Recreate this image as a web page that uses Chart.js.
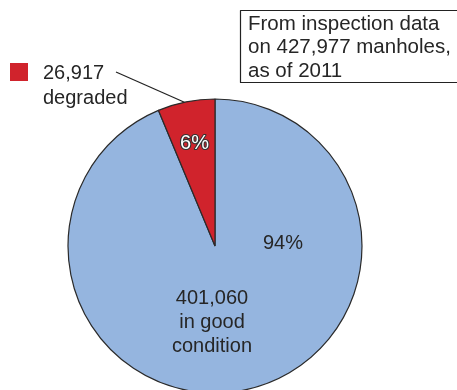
<!DOCTYPE html>
<html>
<head>
<meta charset="utf-8">
<script src="https://cdn.jsdelivr.net/npm/chart.js@4/dist/chart.umd.min.js"></script>
<style>
    html, body { margin: 0; padding: 0; background: #fff; }
    #wrap { position: relative; width: 457px; height: 390px; }
</style>
</head>
<body>
<div id="wrap"><canvas id="manholeChart" width="457" height="390"></canvas></div>
<script>
const categories = ['in good condition', 'degraded'];
const counts = [401060, 26917];
const percents = ['94%', '6%'];
const noteLines = ['From inspection data', 'on 427,977 manholes,', 'as of 2011'];

const sliceColors = ['#95b5df', '#d0232c'];
const textColor = '#262626';
const font = '20px "Liberation Sans", Arial, sans-serif';

const fmt = n => n.toLocaleString('en-US');

// labels, legend swatch with leader line, and the note box
const annotations = {
    id: 'annotations',
    afterDatasetsDraw(chart) {
        const ctx = chart.ctx;
        const arcs = chart.getDatasetMeta(0).data;
        const good = arcs[0];
        const bad = arcs[1];
        const cx = good.x, cy = good.y, r = good.outerRadius;

        ctx.save();
        ctx.font = font;
        ctx.textBaseline = 'middle';
        ctx.textAlign = 'center';

        // percentage inside the small slice, white with dark outline
        const midBad = (bad.startAngle + bad.endAngle) / 2;
        const px = cx + Math.cos(midBad) * r * 0.71;
        const py = cy + Math.sin(midBad) * r * 0.71;
        ctx.lineWidth = 2.2;
        ctx.strokeStyle = '#333';
        ctx.lineJoin = 'round';
        ctx.strokeText(percents[1], px, py);
        ctx.fillStyle = '#fff';
        ctx.fillText(percents[1], px, py);

        // big slice labels
        ctx.fillStyle = textColor;
        ctx.fillText(percents[0], cx + 68, cy - 3);
        ctx.fillText(fmt(counts[0]), cx - 3, cy + 52);
        ctx.fillText('in good', cx - 3, cy + 76);
        ctx.fillText('condition', cx - 3, cy + 100);

        // legend for the degraded slice
        ctx.fillStyle = sliceColors[1];
        ctx.fillRect(10, 63, 18, 18);
        ctx.fillStyle = textColor;
        ctx.textAlign = 'left';
        ctx.fillText(fmt(counts[1]), 43, 73);
        ctx.fillText(categories[1], 43, 98);

        // leader line to the slice edge
        const a = midBad - 0.012;
        ctx.beginPath();
        ctx.moveTo(116, 72);
        ctx.lineTo(cx + Math.cos(a) * r, cy + Math.sin(a) * r);
        ctx.lineWidth = 1.2;
        ctx.strokeStyle = '#222';
        ctx.stroke();

        // note box
        ctx.lineWidth = 1.2;
        ctx.strokeRect(240.5, 10.5, 230, 72);
        ctx.font = '20.5px "Liberation Sans", Arial, sans-serif';
        noteLines.forEach((line, i) => {
            ctx.fillText(line, 248, 24 + i * 23.5);
        });
        ctx.restore();
    }
};

const ctx = document.getElementById('manholeChart').getContext('2d');
new Chart(ctx, {
    type: 'pie',
    data: {
        labels: categories,
        datasets: [{
            data: counts,
            backgroundColor: sliceColors,
            borderColor: '#2a2a2a',
            borderWidth: 1.2,
            clip: false
        }]
    },
    options: {
        responsive: false,
        animation: false,
        radius: 147,
        layout: {
            padding: { left: 68, right: 95, top: 102, bottom: 0 }
        },
        plugins: {
            legend: { display: false },
            tooltip: { enabled: false }
        }
    },
    plugins: [annotations]
});
</script>
</body>
</html>
